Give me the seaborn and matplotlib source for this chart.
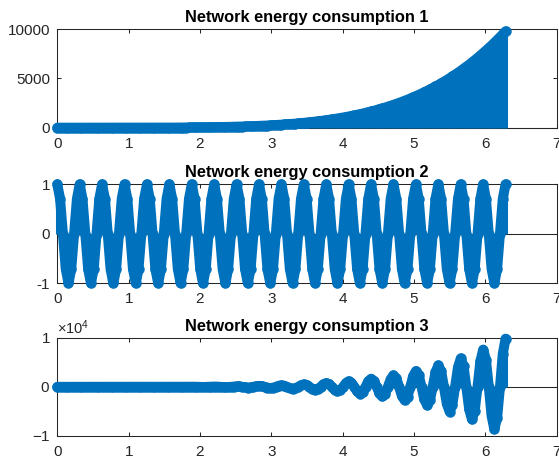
import matplotlib
matplotlib.use("Agg")
import matplotlib.pyplot as plt
import seaborn as sns
from matplotlib.ticker import ScalarFormatter

# sample positions along the x axis (0 .. 2*pi)
t = [
    0.000, 0.039, 0.079, 0.118, 0.157, 0.196, 0.236, 0.275,
    0.314, 0.353, 0.393, 0.432, 0.471, 0.511, 0.550, 0.589,
    0.628, 0.668, 0.707, 0.746, 0.785, 0.825, 0.864, 0.903,
    0.942, 0.982, 1.021, 1.060, 1.100, 1.139, 1.178, 1.217,
    1.257, 1.296, 1.335, 1.374, 1.414, 1.453, 1.492, 1.532,
    1.571, 1.610, 1.649, 1.689, 1.728, 1.767, 1.806, 1.846,
    1.885, 1.924, 1.964, 2.003, 2.042, 2.081, 2.121, 2.160,
    2.199, 2.238, 2.278, 2.317, 2.356, 2.395, 2.435, 2.474,
    2.513, 2.553, 2.592, 2.631, 2.670, 2.710, 2.749, 2.788,
    2.827, 2.867, 2.906, 2.945, 2.985, 3.024, 3.063, 3.102,
    3.142, 3.181, 3.220, 3.259, 3.299, 3.338, 3.377, 3.416,
    3.456, 3.495, 3.534, 3.574, 3.613, 3.652, 3.691, 3.731,
    3.770, 3.809, 3.848, 3.888, 3.927, 3.966, 4.006, 4.045,
    4.084, 4.123, 4.163, 4.202, 4.241, 4.280, 4.320, 4.359,
    4.398, 4.438, 4.477, 4.516, 4.555, 4.595, 4.634, 4.673,
    4.712, 4.752, 4.791, 4.830, 4.869, 4.909, 4.948, 4.987,
    5.027, 5.066, 5.105, 5.144, 5.184, 5.223, 5.262, 5.301,
    5.341, 5.380, 5.419, 5.459, 5.498, 5.537, 5.576, 5.616,
    5.655, 5.694, 5.733, 5.773, 5.812, 5.851, 5.890, 5.930,
    5.969, 6.008, 6.048, 6.087, 6.126, 6.165, 6.205, 6.244,
    6.283,
]

# network energy consumption 1
energy1 = [
    0, 0, 0, 0, 0, 0, 0, 0, 0, 0,
    0, 0, 0, 0, 0, 0, 0, 0, 0, 0,
    0, 0, 0, 1, 1, 1, 1, 1, 2, 2,
    2, 3, 3, 4, 4, 5, 6, 6, 7, 8,
    10, 11, 12, 14, 15, 17, 19, 21, 24, 26,
    29, 32, 36, 39, 43, 47, 51, 56, 61, 67,
    73, 79, 86, 93, 100, 108, 117, 126, 136, 146,
    157, 169, 181, 194, 207, 222, 237, 253, 270, 287,
    306, 326, 346, 368, 391, 414, 439, 466, 493, 522,
    552, 583, 616, 650, 685, 723, 762, 802, 844, 888,
    934, 982, 1031, 1083, 1136, 1192, 1250, 1310, 1372, 1437,
    1504, 1574, 1646, 1721, 1798, 1878, 1962, 2048, 2137, 2229,
    2324, 2422, 2524, 2629, 2738, 2850, 2966, 3086, 3209, 3336,
    3468, 3603, 3743, 3887, 4035, 4188, 4345, 4507, 4674, 4846,
    5023, 5205, 5392, 5585, 5783, 5986, 6195, 6411, 6632, 6859,
    7092, 7331, 7578, 7830, 8089, 8355, 8628, 8908, 9196, 9491,
    9793,
]

# network energy consumption 2
energy2 = [
    1, 0.707, 0, -0.707, -1, -0.707, 0, 0.707,
    1, 0.707, 0, -0.707, -1, -0.707, 0, 0.707,
    1, 0.707, 0, -0.707, -1, -0.707, 0, 0.707,
    1, 0.707, 0, -0.707, -1, -0.707, 0, 0.707,
    1, 0.707, 0, -0.707, -1, -0.707, 0, 0.707,
    1, 0.707, 0, -0.707, -1, -0.707, 0, 0.707,
    1, 0.707, 0, -0.707, -1, -0.707, 0, 0.707,
    1, 0.707, 0, -0.707, -1, -0.707, 0, 0.707,
    1, 0.707, 0, -0.707, -1, -0.707, 0, 0.707,
    1, 0.707, 0, -0.707, -1, -0.707, 0, 0.707,
    1, 0.707, 0, -0.707, -1, -0.707, 0, 0.707,
    1, 0.707, 0, -0.707, -1, -0.707, 0, 0.707,
    1, 0.707, 0, -0.707, -1, -0.707, 0, 0.707,
    1, 0.707, 0, -0.707, -1, -0.707, 0, 0.707,
    1, 0.707, 0, -0.707, -1, -0.707, 0, 0.707,
    1, 0.707, 0, -0.707, -1, -0.707, 0, 0.707,
    1, 0.707, 0, -0.707, -1, -0.707, 0, 0.707,
    1, 0.707, 0, -0.707, -1, -0.707, 0, 0.707,
    1, 0.707, 0, -0.707, -1, -0.707, 0, 0.707,
    1, 0.707, 0, -0.707, -1, -0.707, 0, 0.707,
    1,
]

# network energy consumption 3
energy3 = [
    0, 0, 0, 0, 0, 0, 0, 0,
    0, 0, 0, 0, 0, 0, 0, 0,
    0, 0, 0, 0, 0, 0, 0, 0,
    1, 1, 0, -1, -2, -1, 0, 2,
    3, 3, 0, -3, -6, -5, 0, 6,
    10, 8, 0, -10, -15, -12, 0, 15,
    24, 19, 0, -23, -36, -28, 0, 33,
    51, 40, 0, -47, -73, -56, 0, 66,
    100, 77, 0, -89, -136, -103, 0, 119,
    181, 137, 0, -157, -237, -179, 0, 203,
    306, 230, 0, -260, -391, -293, 0, 329,
    493, 369, 0, -412, -616, -459, 0, 511,
    762, 567, 0, -628, -934, -694, 0, 766,
    1136, 843, 0, -926, -1372, -1016, 0, 1113,
    1646, 1217, 0, -1328, -1962, -1448, 0, 1576,
    2324, 1713, 0, -1859, -2738, -2015, 0, 2182,
    3209, 2359, 0, -2548, -3743, -2748, 0, 2961,
    4345, 3187, 0, -3427, -5023, -3680, 0, 3949,
    5783, 4233, 0, -4533, -6632, -4850, 0, 5184,
    7578, 5537, 0, -5908, -8628, -6299, 0, 6711,
    9793,
]

titles = [
    "Network energy consumption 1",
    "Network energy consumption 2",
    "Network energy consumption 3",
]
x_ticks = [0, 1, 2, 3, 4, 5, 6, 7]
y_ticks = [
    [0, 5000, 10000],
    [-1, 0, 1],
    [-10000, 0, 10000],
]
y_limits = [(0, 10000), (-1, 1), (-10000, 10000)]

sns.set_theme(style="ticks")
plt.rcParams.update({
    "font.family": ["Liberation Sans", "DejaVu Sans"],
    "mathtext.fontset": "custom",
    "mathtext.rm": "Liberation Sans",
    "axes.unicode_minus": False,
    "axes.edgecolor": "#262626",
    "axes.linewidth": 0.75,
    "xtick.color": "#262626",
    "ytick.color": "#262626",
    "xtick.labelcolor": "#262626",
    "ytick.labelcolor": "#262626",
})

BLUE = "#0072BD"
DARK = "#262626"
HEAD = 7.2  # stem-head diameter in points

fig = plt.figure(figsize=(5.59, 4.62), dpi=100)
rects = [
    [0.1025, 0.7236, 0.8934, 0.2130],
    [0.1025, 0.3868, 0.8934, 0.2143],
    [0.1025, 0.0563, 0.8934, 0.2128],
]
series = [energy1, energy2, energy3]

for i, (rect, y) in enumerate(zip(rects, series)):
    ax = fig.add_axes(rect)
    ax.set_facecolor("white")

    # stem baseline and stems
    ax.axhline(0, color=DARK, linewidth=0.75, zorder=2)
    ax.vlines(t, 0, y, colors=BLUE, linewidth=2.2, zorder=3)

    # the closely packed round stem heads form a continuous band
    sns.lineplot(x=t, y=y, ax=ax, color=BLUE, linewidth=HEAD, sort=False,
                 estimator=None, legend=False, zorder=4,
                 solid_capstyle="round", solid_joinstyle="round")
    sns.scatterplot(x=t, y=y, ax=ax, color=BLUE, s=HEAD ** 2,
                    edgecolor=BLUE, linewidth=0.3, zorder=4, legend=False)
    for art in list(ax.lines) + list(ax.collections):
        art.set_clip_on(False)

    ax.set_xlim(0, 7)
    ax.set_ylim(*y_limits[i])
    ax.set_xticks(x_ticks)
    ax.set_yticks(y_ticks[i])
    ax.set_xlabel("")
    ax.set_ylabel("")

    for side in ["top", "right", "bottom", "left"]:
        ax.spines[side].set_visible(True)
        ax.spines[side].set_color(DARK)
        ax.spines[side].set_linewidth(0.75)
        ax.spines[side].set_zorder(2.5)

    ax.tick_params(direction="in", length=3, width=0.75, top=True,
                   right=True, labelsize=11, colors=DARK)
    ax.tick_params(axis="x", pad=6.5)
    ax.tick_params(axis="y", pad=5)

    if i == 2:
        fmt = ScalarFormatter(useMathText=True)
        fmt.set_powerlimits((0, 0))
        ax.yaxis.set_major_formatter(fmt)
        ax.yaxis.get_offset_text().set_fontsize(10.5)
        ax.yaxis.get_offset_text().set_color(DARK)

    ax.set_title(titles[i], fontsize=11.8, fontweight="bold", color="black",
                 pad=5)

fig.savefig("out.png", dpi=100)
